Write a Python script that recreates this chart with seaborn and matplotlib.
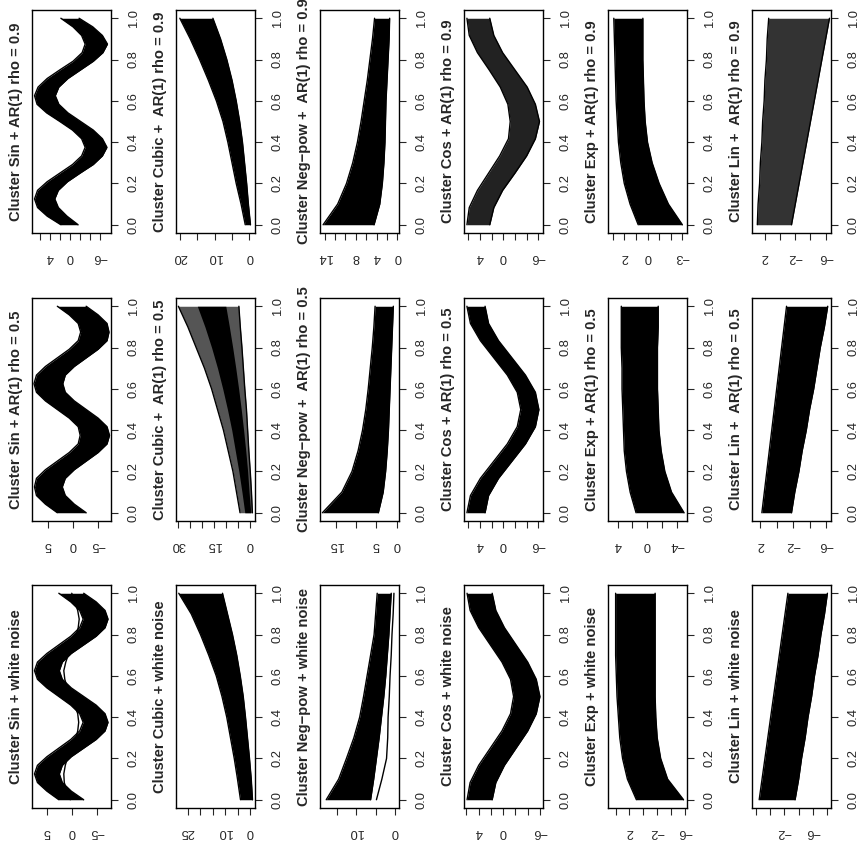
import numpy as np
import seaborn as sns
import matplotlib.pyplot as plt

sns.set_style("white")
plt.rcParams['font.family'] = ['Liberation Sans', 'DejaVu Sans']

# time grids (x axis of the original plots)
t11 = np.linspace(0, 1, 11)
t13 = np.linspace(0, 1, 13)
t25 = np.linspace(0, 1, 25)

# ---------------- AR(1) rho = 0.9 ----------------
sin09_hi = [1.8, 4.5, 6.4, 7.0, 6.4, 4.5, 2.0, -0.5, -2.3, -3.0, -2.3, -0.5, 2.0,
            4.6, 6.5, 7.0, 6.3, 4.5, 2.0, -0.6, -2.4, -3.0, -2.3, -0.6, 1.8]
sin09_lo = [-1.6, 0.6, 2.3, 3.0, 2.3, 0.5, -2.0, -4.6, -6.4, -7.3, -6.4, -4.6, -2.1,
            0.4, 2.2, 2.9, 2.2, 0.4, -2.1, -4.6, -6.5, -7.4, -6.4, -4.5, -1.8]
cub09_hi = [1.2, 2.4, 3.8, 5.0, 6.2, 7.6, 9.5, 11.8, 14.3, 17.0, 20.0]
cub09_lo = [-0.3, 0.3, 0.8, 1.4, 2.0, 2.8, 3.8, 5.0, 6.5, 8.3, 10.5]
neg09_hi = [14.3, 11.5, 9.8, 8.6, 7.7, 7.0, 6.4, 5.8, 5.3, 4.8, 4.4]
neg09_lo = [4.5, 3.4, 2.9, 2.6, 2.4, 2.3, 2.2, 2.0, 1.8, 1.6, 1.5]
cos09_hi = [6.2, 5.8, 4.4, 2.5, 0.6, -0.9, -1.2, -0.8, 0.5, 2.4, 4.4, 5.8, 6.2]
cos09_lo = [2.3, 1.6, 0.1, -2.0, -4.0, -5.5, -6.2, -5.5, -4.1, -2.0, 0.1, 1.6, 2.3]
exp09_hi = [0.8, 1.5, 2.0, 2.3, 2.5, 2.6, 2.7, 2.75, 2.8, 2.85, 2.9]
exp09_lo = [-3.0, -1.8, -1.0, -0.4, 0.0, 0.2, 0.3, 0.35, 0.4, 0.4, 0.4]
lin09_hi = [3.0, 2.9, 2.7, 2.6, 2.4, 2.3, 2.1, 2.0, 1.8, 1.7, 1.5]
lin09_lo = [-1.5, -2.0, -2.5, -3.0, -3.5, -4.0, -4.5, -5.0, -5.5, -6.0, -6.5]

# ---------------- AR(1) rho = 0.5 ----------------
sin05_hi = [3.2, 5.6, 7.4, 7.8, 7.4, 5.6, 3.2, 0.8, -1.0, -1.4, -1.0, 0.8, 3.2,
            5.6, 7.4, 7.9, 7.4, 5.6, 3.2, 0.8, -1.0, -1.5, -1.0, 0.8, 3.2]
sin05_lo = [-2.6, -0.2, 1.6, 2.2, 1.6, -0.2, -2.6, -5.0, -6.8, -7.3, -6.8, -5.0, -2.6,
            -0.2, 1.6, 2.1, 1.6, -0.2, -2.6, -5.0, -6.8, -7.2, -6.8, -5.0, -2.6]
cub05_hi = [4.0, 5.5, 7.0, 9.0, 11.0, 13.5, 16.0, 19.0, 22.5, 26.0, 30.0]
cub05_lo = [-1.2, -0.8, -0.3, 0.3, 0.8, 1.3, 2.0, 2.6, 3.2, 3.9, 4.5]
cub05_core_hi = [2.0, 3.2, 4.5, 6.0, 7.5, 9.3, 11.3, 13.5, 16.0, 18.8, 22.0]
cub05_core_lo = [-0.5, 0.2, 0.8, 1.6, 2.5, 3.5, 4.6, 5.8, 7.1, 8.5, 10.0]
neg05_hi = [18.3, 13.5, 11.0, 9.5, 8.4, 7.6, 7.0, 6.5, 6.0, 5.6, 5.3]
neg05_lo = [4.5, 3.3, 2.7, 2.3, 2.0, 1.8, 1.6, 1.4, 1.2, 1.0, 0.8]
cos05_hi = [6.2, 5.6, 3.9, 1.6, -0.7, -2.4, -3.0, -2.4, -0.7, 1.6, 3.9, 5.6, 6.2]
cos05_lo = [3.1, 2.5, 0.8, -1.5, -3.8, -5.5, -6.1, -5.5, -3.8, -1.5, 0.8, 2.5, 3.1]
exp05_hi = [1.5, 2.3, 2.8, 3.1, 3.2, 3.3, 3.4, 3.4, 3.5, 3.5, 3.5]
exp05_lo = [-5.0, -3.3, -2.4, -1.9, -1.6, -1.5, -1.4, -1.4, -1.4, -1.5, -1.5]
lin05_hi = [1.8, 1.5, 1.2, 0.9, 0.6, 0.3, 0.0, -0.3, -0.6, -0.9, -1.2]
lin05_lo = [-1.8, -2.2, -2.7, -3.1, -3.6, -4.0, -4.5, -4.9, -5.3, -5.8, -6.2]

# ---------------- white noise ----------------
sinwn_hi = [2.6, 5.0, 6.9, 7.5, 6.9, 5.0, 2.6, 0.2, -1.6, -2.3, -1.6, 0.2, 2.6,
            5.0, 6.9, 7.5, 6.9, 5.0, 2.6, 0.2, -1.6, -2.3, -1.6, 0.2, 2.6]
sinwn_lo = [-2.4, 0.1, 1.9, 2.5, 1.9, 0.1, -2.4, -4.9, -6.7, -7.3, -6.7, -4.9, -2.4,
            0.1, 1.9, 2.5, 1.9, 0.1, -2.4, -4.9, -6.7, -7.3, -6.7, -4.9, -2.4]
sinwn_odd = [0.3, 1.0, 1.5, 1.6, 1.3, 0.8, 0.0, -0.8, -1.2, -1.4, -1.2, -0.6, 0.1,
             0.9, 1.4, 1.6, 1.2, 0.6, -0.1, -0.8, -1.3, -1.5, -1.2, -0.6, 0.0]
cubwn_hi = [3.8, 5.0, 6.3, 7.8, 9.3, 11.2, 13.5, 16.5, 19.8, 23.5, 28.5]
cubwn_lo = [-1.0, -0.5, 0.2, 1.0, 1.8, 2.7, 3.9, 5.3, 7.0, 9.0, 11.0]
negwn_hi = [17.7, 14.5, 12.5, 10.6, 9.1, 8.1, 7.2, 6.3, 5.4, 5.0, 4.6]
negwn_lo = [6.3, 5.5, 4.8, 4.1, 3.5, 2.9, 2.4, 2.0, 1.6, 1.3, 1.0]
negwn_odd = [4.8, 3.4, 2.2, 1.9, 1.8, 1.5, 1.3, 1.0, 0.8, 0.5, 0.3]
coswn_hi = [5.9, 5.4, 4.0, 2.1, 0.2, -1.2, -1.7, -1.2, 0.2, 2.1, 4.0, 5.4, 5.9]
coswn_lo = [1.8, 1.2, -0.2, -2.1, -4.0, -5.4, -6.0, -5.4, -4.0, -2.1, -0.2, 1.2, 1.8]
expwn_hi = [1.0, 2.3, 3.0, 3.4, 3.6, 3.8, 3.9, 4.0, 4.0, 4.0, 4.0]
expwn_lo = [-5.8, -3.5, -2.5, -2.0, -1.8, -1.7, -1.7, -1.7, -1.7, -1.7, -1.7]
linwn_hi = [1.5, 1.1, 0.7, 0.3, -0.1, -0.5, -0.9, -1.3, -1.7, -2.1, -2.5]
linwn_lo = [-3.5, -4.0, -4.4, -4.9, -5.3, -5.8, -6.2, -6.7, -7.1, -7.6, -8.0]

# axis ticks / labels of the value axis for each panel
rows = [
    [
        ("Cluster Sin + AR(1) rho = 0.9", t25, sin09_lo, sin09_hi, [], None,
         (7.5, -8.1), [6, 4, 2, 0, -2, -4, -6], ["", "4", "", "0", "", "", "−6"], "black"),
        ("Cluster Cubic +  AR(1) rho = 0.9", t11, cub09_lo, cub09_hi, [], None,
         (21.1, -1.6), [0, 5, 10, 15, 20], ["0", "", "10", "", "20"], "black"),
        ("Cluster Neg−pow +  AR(1) rho = 0.9", t11, neg09_lo, neg09_hi, [], None,
         (14.9, -0.3), [14, 12, 10, 8, 6, 4, 2, 0], ["14", "", "", "8", "", "4", "", "0"], "black"),
        ("Cluster Cos + AR(1) rho = 0.9", t13, cos09_lo, cos09_hi, [], None,
         (6.7, -6.8), [6, 4, 2, 0, -2, -4, -6], ["", "4", "", "0", "", "", "−6"], "#222222"),
        ("Cluster Exp + AR(1) rho = 0.9", t11, exp09_lo, exp09_hi, [], None,
         (3.4, -3.4), [3, 2, 1, 0, -1, -2, -3], ["", "2", "", "0", "", "", "−3"], "black"),
        ("Cluster Lin +  AR(1) rho = 0.9", t11, lin09_lo, lin09_hi, [], None,
         (3.7, -6.7), [2, 0, -2, -4, -6], ["2", "", "−2", "", "−6"], "#333333"),
    ],
    [
        ("Cluster Sin + AR(1) rho = 0.5", t25, sin05_lo, sin05_hi, [], None,
         (8.3, -7.6), [5, 0, -5], ["5", "0", "−5"], "black"),
        ("Cluster Cubic +  AR(1) rho = 0.5", t11, cub05_lo, cub05_hi, [], (cub05_core_lo, cub05_core_hi),
         (31.0, -2.3), [0, 5, 10, 15, 20, 25, 30], ["0", "", "", "15", "", "", "30"], "#555555"),
        ("Cluster Neg−pow +  AR(1) rho = 0.5", t11, neg05_lo, neg05_hi, [], None,
         (18.9, -0.6), [15, 10, 5, 0], ["15", "", "5", "0"], "black"),
        ("Cluster Cos + AR(1) rho = 0.5", t13, cos05_lo, cos05_hi, [], None,
         (6.7, -6.8), [6, 4, 2, 0, -2, -4, -6], ["", "4", "", "0", "", "", "−6"], "black"),
        ("Cluster Exp + AR(1) rho = 0.5", t11, exp05_lo, exp05_hi, [], None,
         (5.3, -5.4), [4, 2, 0, -2, -4], ["4", "", "0", "", "−4"], "black"),
        ("Cluster Lin +  AR(1) rho = 0.5", t11, lin05_lo, lin05_hi, [], None,
         (3.0, -6.6), [2, 0, -2, -4, -6], ["2", "", "−2", "", "−6"], "black"),
    ],
    [
        ("Cluster Sin + white noise", t25, sinwn_lo, sinwn_hi, [sinwn_odd], None,
         (8.0, -7.9), [5, 0, -5], ["5", "0", "−5"], "black"),
        ("Cluster Cubic + white noise", t11, cubwn_lo, cubwn_hi, [], None,
         (29.6, -2.0), [0, 5, 10, 15, 20, 25], ["0", "", "10", "", "", "25"], "black"),
        ("Cluster Neg−pow + white noise", t11, negwn_lo, negwn_hi, [negwn_odd], None,
         (19.3, -1.0), [15, 10, 5, 0], ["", "10", "", "0"], "black"),
        ("Cluster Cos + white noise", t13, coswn_lo, coswn_hi, [], None,
         (6.4, -6.5), [6, 4, 2, 0, -2, -4, -6], ["", "4", "", "0", "", "", "−6"], "black"),
        ("Cluster Exp + white noise", t11, expwn_lo, expwn_hi, [], None,
         (5.1, -6.3), [4, 2, 0, -2, -4, -6], ["", "2", "", "−2", "", "−6"], "black"),
        ("Cluster Lin + white noise", t11, linwn_lo, linwn_hi, [], None,
         (2.5, -8.5), [2, 0, -2, -4, -6, -8], ["", "", "−2", "", "−6", ""], "black"),
    ],
]

W, H = 863, 844
fig = plt.figure(figsize=(W / 100, H / 100), dpi=100)

col_left = [32 + 144 * c for c in range(6)]
row_top = [10, 298, 585]
box_w, box_h = 79, 223

for r, row in enumerate(rows):
    for c, (title, t, lo, hi, extras, core, xlim, ticks, labels, fill) in enumerate(row):
        ax = fig.add_axes([col_left[c] / W, 1 - (row_top[r] + box_h) / H, box_w / W, box_h / H])
        ax.fill_betweenx(t, lo, hi, color=fill, lw=0)
        if core is not None:
            ax.fill_betweenx(t, core[0], core[1], color="black", lw=0)
        sns.lineplot(x=lo, y=t, orient="y", estimator=None, sort=False, color="black", lw=1, ax=ax)
        sns.lineplot(x=hi, y=t, orient="y", estimator=None, sort=False, color="black", lw=1, ax=ax)
        for e in extras:
            sns.lineplot(x=e, y=t, orient="y", estimator=None, sort=False, color="black", lw=1, ax=ax)
        ax.set_xlim(*xlim)
        ax.set_ylim(-0.04, 1.04)
        ax.set_xlabel("")
        ax.set_ylabel("")
        # value axis (bottom, upside-down labels)
        ax.set_xticks(ticks)
        ax.set_xticklabels(labels, rotation=180, fontsize=9.3)
        # time axis (right side)
        ax.yaxis.tick_right()
        ax.set_yticks([0, 0.2, 0.4, 0.6, 0.8, 1.0])
        ax.set_yticklabels(["0.0", "0.2", "0.4", "0.6", "0.8", "1.0"], rotation=90,
                           va="center", fontsize=9.3)
        ax.tick_params(axis="x", direction="out", length=5, width=0.8, pad=8, bottom=True)
        ax.tick_params(axis="y", direction="out", length=5, width=0.8, pad=7, right=True, left=False)
        for s in ax.spines.values():
            s.set_color("black")
            s.set_linewidth(1)
        ax.text(-16 / box_w, 0.5, title, transform=ax.transAxes, rotation=90,
                ha="center", va="center", fontsize=10.6, fontweight="bold")

fig.savefig("out.png", dpi=100)
